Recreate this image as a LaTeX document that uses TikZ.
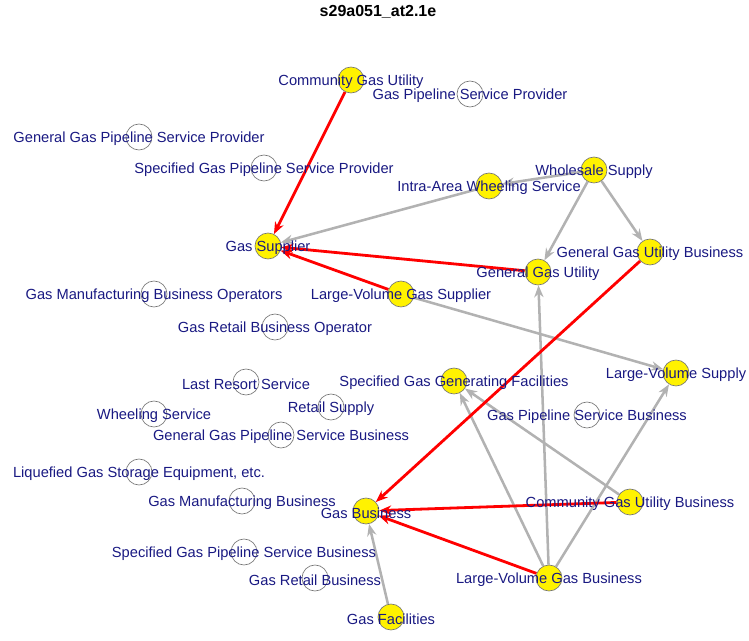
\documentclass[tikz,border=0pt]{standalone}
\usepackage{fontspec}
\setmainfont{Liberation Sans}
\usetikzlibrary{arrows.meta,backgrounds}
\definecolor{lblblue}{RGB}{25,25,130}
\definecolor{edgegray}{RGB}{178,178,178}
\tikzset{
  yel/.style={circle,draw=black!55,line width=0.5pt,fill=yellow,minimum size=19.5pt,inner sep=0pt},
  wht/.style={circle,draw=black!55,line width=0.5pt,fill=white,minimum size=19.5pt,inner sep=0pt},
  lbl/.style={text=lblblue,font=\fontsize{11}{13}\selectfont,inner sep=0pt,yshift=-1.5pt},
  grayedge/.style={draw=edgegray,line width=1.9pt,-{Stealth[length=9pt,width=7pt]}},
  rededge/.style={draw=red,line width=2.1pt,-{Stealth[length=9pt,width=7pt]}},
}

\begin{document}
\begin{tikzpicture}[x=0.75pt,y=-0.75pt]
\useasboundingbox (0,0) rectangle (749,641);
%title
\node[font=\bfseries\fontsize{12}{14}\selectfont] (title) at (378,12) {s29a051\_at2.1e};
%upper part:
\node[yel,label={[lbl]center:Community Gas Utility}] (cgu) at (351,80) {};
\node[wht,label={[lbl]center:Gas Pipeline Service Provider}] (gpsp) at (470,94) {};
\node[wht,label={[lbl]center:General Gas Pipeline Service Provider}] (ggpsp) at (139,137) {};
\node[wht,label={[lbl]center:Specified Gas Pipeline Service Provider}] (sgpsp) at (264,168) {};
\node[yel,label={[lbl]center:Wholesale Supply}] (ws) at (594,170) {};
\node[yel,label={[lbl]center:Intra-Area Wheeling Service}] (iaws) at (489,186) {};
\node[yel,label={[lbl]center:Gas Supplier}] (gsup) at (268,246) {};
\node[yel,label={[lbl]center:General Gas Utility Business}] (gggub) at (650,252) {};
\node[yel,label={[lbl]center:General Gas Utility}] (ggu) at (538,272) {};
\node[wht,label={[lbl]center:Gas Manufacturing Business Operators}] (gmbo) at (154,294) {};
\node[yel,label={[lbl]center:Large-Volume Gas Supplier}] (lvgs) at (401,294) {};
\node[wht,label={[lbl]center:Gas Retail Business Operator}] (grbo) at (275,327) {};
%middle part:
\node[wht,label={[lbl]center:Last Resort Service}] (lrs) at (246,382) {};
\node[yel,label={[lbl]center:Specified Gas Generating Facilities}] (sggf) at (454,381) {};
\node[yel,label={[lbl]center:Large-Volume Supply}] (lvs) at (676,373) {};
\node[wht,label={[lbl]center:Wheeling Service}] (whs) at (154,414) {};
\node[wht,label={[lbl]center:Retail Supply}] (rs) at (331,407) {};
\node[wht,label={[lbl]center:Gas Pipeline Service Business}] (gpsb) at (587,415) {};
\node[wht,label={[lbl]center:General Gas Pipeline Service Business}] (ggpsb) at (281,435) {};
%lower part:
\node[wht,label={[lbl]center:Liquefied Gas Storage Equipment, etc.}] (lgse) at (139,472) {};
\node[wht,label={[lbl]center:Gas Manufacturing Business}] (gmb) at (242,501) {};
\node[yel,label={[lbl]center:Gas Business}] (gb) at (366,511) {};
\node[yel,label={[lbl]center:Community Gas Utility Business}] (cgub) at (630,502) {};
\node[wht,label={[lbl]center:Specified Gas Pipeline Service Business}] (sgpsb) at (244,552) {};
\node[wht,label={[lbl]center:Gas Retail Business}] (grb) at (315,578) {};
\node[yel,label={[lbl]center:Large-Volume Gas Business}] (lvgb) at (549,578) {};
\node[yel,label={[lbl]center:Gas Facilities}] (gf) at (391,617) {};
%edges:
\begin{scope}[on background layer]
\draw[grayedge] (ws) -- (iaws);
\draw[grayedge] (iaws) -- (gsup);
\draw[grayedge] (ws) -- (ggu);
\draw[grayedge] (ws) -- (gggub);
\draw[grayedge] (lvgs) -- (lvs);
\draw[grayedge] (lvgb) -- (ggu);
\draw[grayedge] (lvgb) -- (sggf);
\draw[grayedge] (cgub) -- (sggf);
\draw[grayedge] (lvgb) -- (lvs);
\draw[grayedge] (gf) -- (gb);
\draw[rededge] (cgu) -- (gsup);
\draw[rededge] (ggu) -- (gsup);
\draw[rededge] (lvgs) -- (gsup);
\draw[rededge] (gggub) -- (gb);
\draw[rededge] (cgub) -- (gb);
\draw[rededge] (lvgb) -- (gb);
\end{scope}
\end{tikzpicture}
\end{document}
